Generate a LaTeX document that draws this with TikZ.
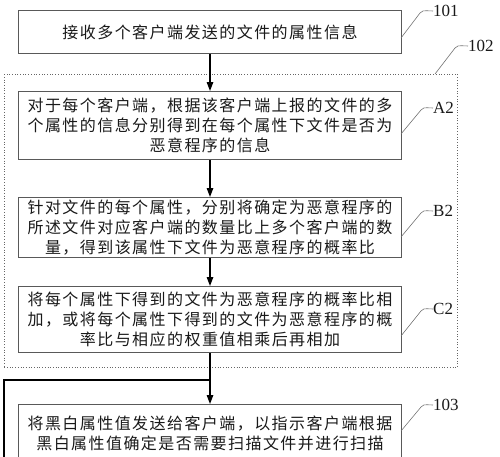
\documentclass[tikz,border=0pt]{standalone}
\usepackage{fontspec}
\setmainfont{Liberation Serif}
\newfontfamily\cjk[LetterSpace=9]{Noto Sans CJK SC}
\usetikzlibrary{arrows.meta}
\tikzset{
  box/.style={draw=black!65, line width=1pt, minimum width=383pt, inner sep=0pt,
    anchor=north west, align=center, font=\cjk\fontsize{16}{20}\selectfont, text=black!90},
  dotbox/.style={draw=black!60, dotted, line width=0.7pt, minimum width=453pt,
    minimum height=293pt, inner sep=0pt, anchor=north west},
  flow/.style={line width=1.3pt, -{Triangle[length=9pt,width=6.5pt]}},
  plain/.style={line width=1.3pt},
  leader/.style={draw=black!55, line width=0.6pt},
  lbl/.style={anchor=west, inner sep=0pt, font=\fontsize{17}{17}\selectfont, text=black!90}
}
\begin{document}
\begin{tikzpicture}[x=1pt,y=-1pt]
\useasboundingbox (0,0) rectangle (500,456);
\clip (0,0) rectangle (500,456);
\node[dotbox] (g102) at (4,74) {};
\node[box, minimum height=43pt] (n101) at (18,10) {接收多个客户端发送的文件的属性信息};
\node[box, minimum height=68pt] (a2) at (18,91) {对于每个客户端，根据该客户端上报的文件的多\\个属性的信息分别得到在每个属性下文件是否为\\恶意程序的信息};
\node[box, minimum height=60pt] (b2) at (18,197) {针对文件的每个属性，分别将确定为恶意程序的\\所述文件对应客户端的数量比上多个客户端的数\\量，得到该属性下文件为恶意程序的概率比};
\node[box, minimum height=66pt] (c2) at (18,286) {将每个属性下得到的文件为恶意程序的概率比相\\加，或将每个属性下得到的文件为恶意程序的概\\率比与相应的权重值相乘后再相加};
\node[box, minimum height=58pt] (n103) at (18,404) {将黑白属性值发送给客户端，以指示客户端根据\\黑白属性值确定是否需要扫描文件并进行扫描};
\draw[flow] (n101.south) -- (a2.north);
\draw[flow] (a2.south) -- (b2.north);
\draw[flow] (b2.south) -- (c2.north);
\draw[flow] (c2.south) -- (n103.north);
\coordinate (j) at (209.5,380);
\coordinate (l) at (4,380);
\coordinate (lb) at (4,470);
\draw[plain] (lb) -- (l) -- (j);
% leaders and labels
\node[lbl] (t101) at (433,11) {101};
\node[lbl] (t102) at (468,46) {102};
\node[lbl] (ta2) at (433,108) {A2};
\node[lbl] (tb2) at (433,211) {B2};
\node[lbl] (tc2) at (433,309) {C2};
\node[lbl] (t103) at (433,405) {103};
\draw[leader] (401,38) -- (420,13) .. controls (422,10.5) .. (t101.west);
\draw[leader] (435,74) -- (455,48) .. controls (457,45.5) .. (t102.west);
\draw[leader] (401,134) -- (421,110) .. controls (423,107.5) .. (ta2.west);
\draw[leader] (401,237) -- (421,213) .. controls (423,210.5) .. (tb2.west);
\draw[leader] (401,336) -- (421,311) .. controls (423,308.5) .. (tc2.west);
\draw[leader] (401,431) -- (421,407) .. controls (423,404.5) .. (t103.west);
\end{tikzpicture}
\end{document}
